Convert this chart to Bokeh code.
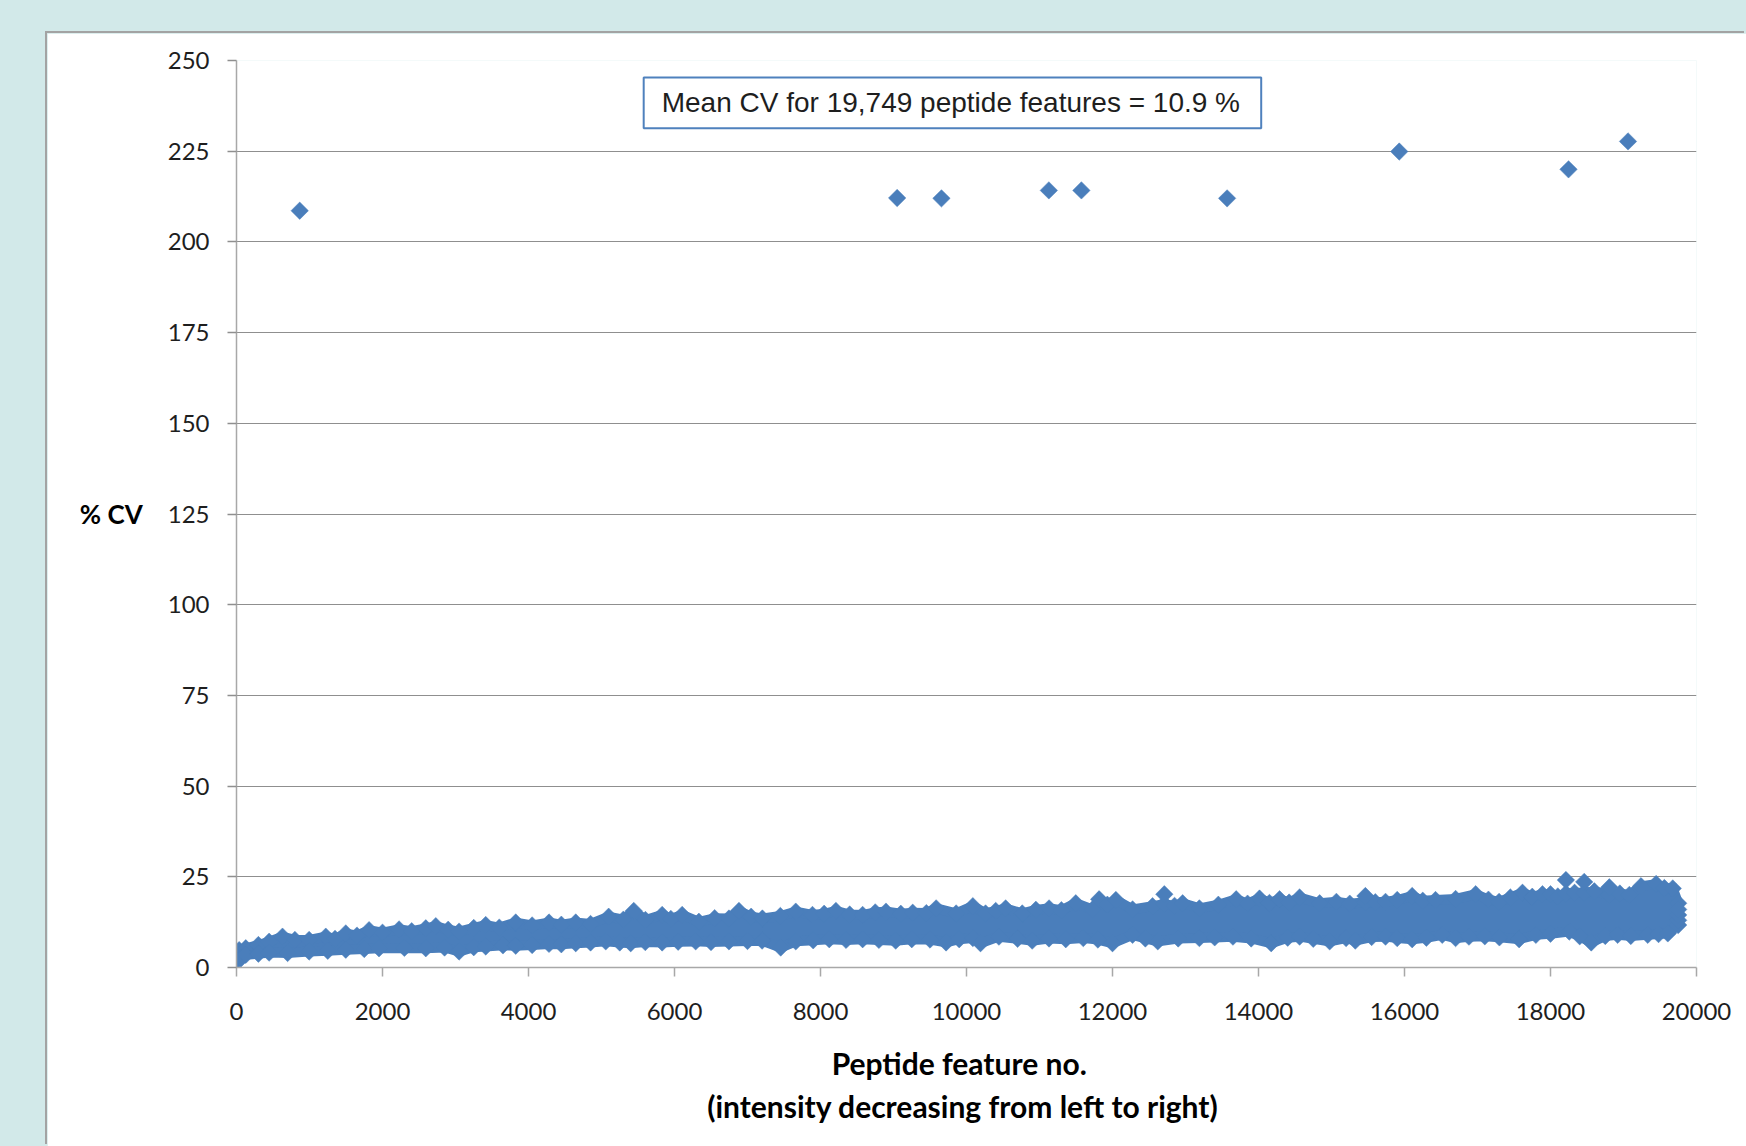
import numpy as np
from bokeh.plotting import figure
from bokeh.models import Range1d, FixedTicker, BoxAnnotation, Label, Spacer
from bokeh.layouts import column, row
from bokeh.embed import file_html
from bokeh.resources import INLINE

# ---------------- data ----------------
x_ticks = list(range(0, 20001, 2000))
y_ticks = list(range(0, 251, 25))

# isolated high-CV peptide features
outlier_x = [866, 9050, 9657, 11128, 11574, 13570, 15928, 18247, 19062]
outlier_cv = [208.6, 212.1, 212.0, 214.2, 214.2, 212.0, 224.9, 220.0, 227.7]

# highest CV values along the dense band
upper_x = [0, 36, 127, 300, 447, 630, 800, 995, 1223, 1350, 1497, 1650, 1816, 2000, 2227, 2400,
           2593, 2730, 2900, 3049, 3250, 3414, 3600, 3825, 4050, 4281, 4450, 4647, 4850, 5098,
           5300, 5442, 5602, 5831, 5950, 6105, 6334, 6550, 6746, 6883, 7050, 7204, 7450, 7661,
           7890, 8050, 8211, 8400, 8577, 8750, 8897, 9100, 9263, 9450, 9584, 9858, 10087, 10261,
           10400, 10536, 10764, 10950, 11131, 11300, 11497, 11726, 11817, 11930, 12046, 12275,
           12549, 12710, 12850, 12961, 13190, 13450, 13694, 13850, 14014, 14150, 14289, 14420,
           14563, 14838, 15067, 15250, 15464, 15600, 15740, 15900, 16105, 16250, 16425, 16700,
           16975, 17150, 17296, 17450, 17616, 17750, 17890, 18000, 18100, 18211, 18330, 18462,
           18600, 18806, 18950, 19080, 19240, 19447, 19560, 19675, 19749]
upper_cv = [2.3, 4.8, 5.3, 6.2, 7.1, 8.5, 7.6, 7.6, 8.5, 7.9, 9.4, 8.8, 10.3, 9.6, 10.5, 10.0,
            10.8, 11.4, 10.4, 9.9, 10.9, 11.7, 11.0, 12.4, 11.6, 12.4, 11.8, 12.4, 12.0, 14.0,
            13.2, 15.6, 13.1, 14.5, 13.4, 14.5, 12.6, 13.6, 13.5, 15.6, 14.0, 13.5, 14.2, 15.4,
            14.5, 14.8, 15.6, 14.6, 14.5, 15.2, 15.4, 14.8, 15.1, 15.0, 16.3, 14.9, 16.9, 14.9,
            15.6, 16.3, 14.9, 15.9, 16.3, 15.8, 17.7, 16.0, 18.8, 17.3, 18.6, 16.0,
            16.9, 17.5, 17.0, 17.7, 16.3, 17.3, 18.8, 17.6, 19.0, 17.8, 18.8, 17.9,
            19.3, 17.7, 18.1, 17.6, 18.0, 18.0, 18.1, 18.6, 19.7, 18.4, 18.6, 18.9,
            20.2, 18.7, 18.1, 19.3, 20.6, 19.5, 20.2, 20.2, 19.6, 20.4, 20.6, 20.6,
            21.0, 20.0, 20.4, 20.0, 22.4, 23.0, 21.9, 21.8, 17.7]

# lowest CV values along the dense band
lower_x = [0, 60, 127, 300, 447, 700, 995, 1250, 1497, 1750, 1952, 2300, 2593, 2850, 3049, 3250,
           3414, 3650, 3825, 4050, 4281, 4450, 4647, 4850, 5058, 5250, 5400, 5600, 5831, 6050,
           6290, 6500, 6746, 7000, 7200, 7455, 7661, 7900, 8120, 8350, 8577, 8800, 9030, 9250,
           9500, 9720, 9900, 10087, 10192, 10444, 10700, 10900, 11130, 11360, 11600, 11800,
           12000, 12275, 12450, 12620, 12900, 13190, 13400, 13650, 13900, 14174, 14400, 14563,
           14750, 14975, 15200, 15326, 15550, 15740, 15900, 16105, 16300, 16517, 16700, 16883,
           17100, 17300, 17570, 17800, 18000, 18257, 18400, 18558, 18750, 18920, 19100, 19332,
           19480, 19607, 19749]
lower_cv = [1.7, 2.5, 3.5, 3.8, 4.1, 4.0, 4.4, 4.6, 4.9, 5.1, 5.3, 5.4, 5.3, 5.5, 4.4, 5.6,
            5.8, 6.1, 6.0, 6.2, 6.5, 6.4, 6.7, 6.9, 7.2, 6.9, 6.7, 7.0, 6.9, 7.1,
            7.2, 7.0, 7.2, 7.3, 7.4, 5.5, 7.2, 7.5, 7.8, 7.6, 7.8, 7.6, 7.4, 7.8,
            7.7, 6.9, 7.8, 8.1, 6.7, 8.5, 7.9, 7.4, 8.0, 7.8, 8.1, 7.7,
            6.7, 9.0, 8.0, 7.2, 8.0, 8.1, 8.3, 8.5, 8.0, 6.7, 8.2, 8.5,
            7.9, 7.2, 8.1, 7.4, 8.4, 8.5, 8.1, 7.8, 8.2, 9.0, 8.1, 8.5,
            8.6, 8.3, 7.8, 9.0, 9.3, 9.9, 8.6, 6.9, 8.7, 9.0, 8.7, 9.0,
            9.2, 9.4, 11.7]

# features that stick out just above the band, and the last features at the right end
high_x = [12710, 15464, 18211, 18462, 18806]
high_cv = [20.2, 19.7, 24.1, 23.6, 22.1]
end_x = [19749, 19749, 19749]
end_cv = [13.0, 14.5, 16.0]

annotation_text = "Mean CV for 19,749 peptide features = 10.9 %"
x_title = "Peptide feature   no.\n(intensity decreasing from  left to right)"
y_title = "% CV"

# ---------------- styling ----------------
BLUE = "#4a7ebb"
GRID = "#8f8f8f"
AXIS = "#a8a8a8"
TEXT = "#1e1e1e"
TEAL = "#d2e9e9"
MS = 12.3  # square side -> ~17 px diamond

p = figure(width=1699, height=1113, output_backend="svg", toolbar_location=None,
           x_range=Range1d(0, 20000), y_range=Range1d(0, 250),
           min_border_left=189, min_border_right=50, min_border_top=27, min_border_bottom=179)
p.background_fill_color = "white"
p.border_fill_color = "white"
p.outline_line_color = None
p.styles = {"box-shadow": "-2px -2px 0px 0px #a3a3a3"}

# axes
p.xaxis.ticker = FixedTicker(ticks=x_ticks)
p.yaxis.ticker = FixedTicker(ticks=y_ticks)
for ax in (p.xaxis[0], p.yaxis[0]):
    ax.axis_line_color = AXIS
    ax.axis_line_width = 1.5
    ax.major_tick_line_color = AXIS
    ax.major_tick_line_width = 1.5
    ax.major_tick_in = 0
    ax.major_tick_out = 9
    ax.minor_tick_line_color = None
    ax.major_label_text_font = "Lato"
    ax.major_label_text_font_size = "24px"
    ax.major_label_text_color = TEXT
    ax.axis_label_text_font = "Lato"
    ax.axis_label_text_font_style = "bold"
    ax.axis_label_text_color = "black"
p.xaxis.major_label_standoff = 26
p.yaxis.major_label_standoff = 18
p.yaxis.major_tick_line_color = GRID
p.xaxis.axis_label = x_title
p.xaxis.axis_label_text_font_size = "30px"
p.xaxis.axis_label_standoff = 22
p.xaxis.axis_label_text_line_height = 1.2
p.yaxis.axis_label = y_title
p.yaxis.axis_label_text_font_size = "26px"
p.yaxis.axis_label_orientation = "horizontal"
p.yaxis.axis_label_standoff = 22

p.xgrid.visible = False
p.ygrid.ticker = FixedTicker(ticks=y_ticks)
p.ygrid.grid_line_color = GRID
p.ygrid.grid_line_width = 1

# dense band: filled envelope (mitred outline) plus diamond markers along its edges
band_xs = list(upper_x) + list(lower_x)[::-1]
band_ys = list(upper_cv) + list(lower_cv)[::-1]
p.patch(band_xs, band_ys, fill_color=BLUE, line_color=BLUE, line_width=10,
        line_join="miter")

for xs, ys in ((upper_x, upper_cv), (lower_x, lower_cv), (high_x, high_cv),
               (end_x, end_cv), (outlier_x, outlier_cv)):
    p.scatter(xs, ys, marker="square", angle=np.pi / 4, size=MS,
              fill_color=BLUE, line_color=BLUE, line_width=0.5)

# annotation box
box = BoxAnnotation(left=5578, right=14037, bottom=231.3, top=245.3,
                    fill_color="white", fill_alpha=1.0,
                    line_color="#4f81bd", line_width=2, line_alpha=1.0)
p.add_layout(box)
p.add_layout(Label(x=5825, y=238.3, text=annotation_text, text_align="left",
                   text_baseline="middle", text_font="Liberation Sans",
                   text_font_size="28px", text_color=TEXT))

root = column(Spacer(width=1746, height=33),
              row(Spacer(width=47, height=1113), p),
              styles={"background-color": TEAL}, width=1746, height=1146)

open("out.html", "w").write(file_html(root, INLINE))
